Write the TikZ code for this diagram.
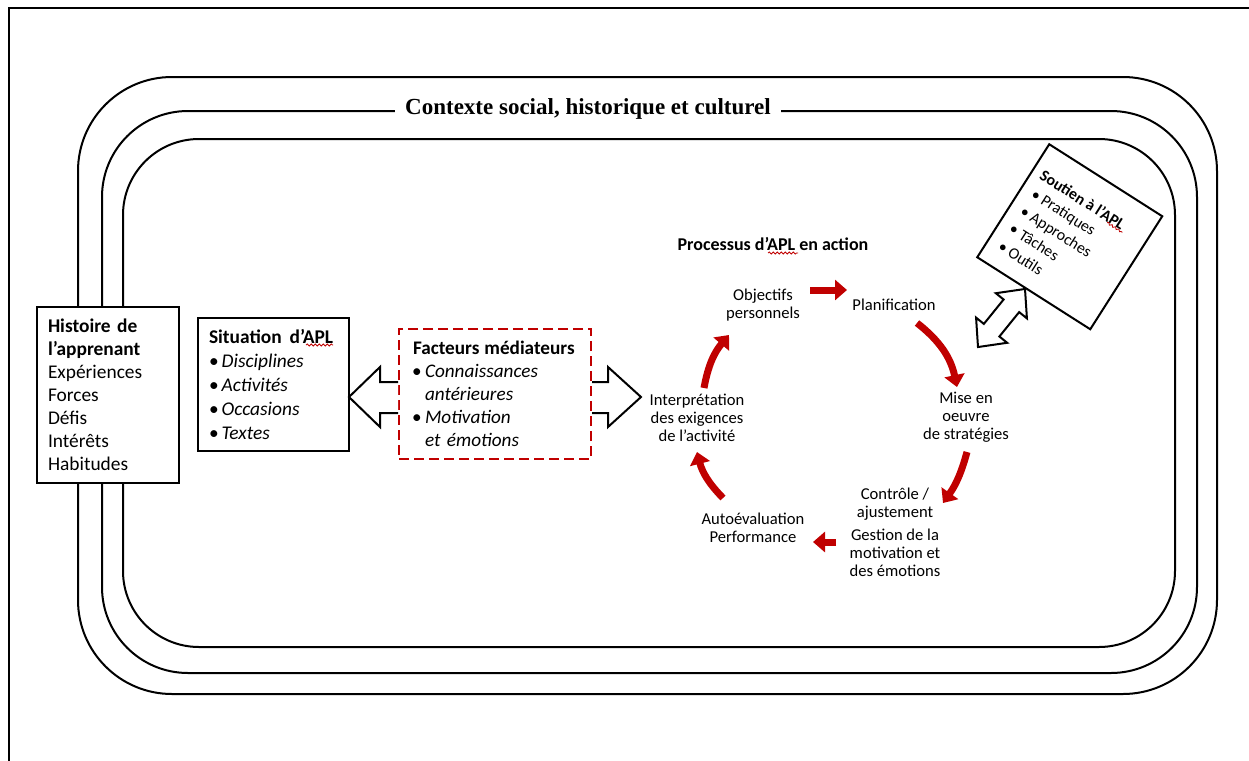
\documentclass[tikz,border=0pt]{standalone}
\usepackage{fontspec}
\setmainfont{Carlito}
\newfontfamily\titlefont{Liberation Serif}
\usetikzlibrary{arrows.meta,calc,decorations.pathmorphing}
\definecolor{aplred}{RGB}{192,0,0}

\begin{document}
\begin{tikzpicture}[x=0.5pt,y=-0.5pt,
  ring/.style={line width=1pt},
  textbox/.style={draw=black, line width=0.7pt, fill=white, align=left},
  dashbox/.style={draw=aplred, line width=1pt, dash pattern=on 5pt off 2.5pt, fill=white, align=left},
  blockarrow/.style={draw=black, line width=1pt, fill=white, line join=miter},
  cyclbl/.style={font=\fontsize{8.3}{9}\selectfont, align=center, inner sep=0pt},
  cycarrow/.style={draw=aplred, line width=3.5pt, -{Triangle[length=6pt,width=10pt]}},
  squiggle/.style={draw=aplred, line width=0.4pt, decorate, decoration={snake, amplitude=0.5pt, segment length=2pt}},
]
\useasboundingbox (0,0) rectangle (1249,761);

% page frame
\draw[line width=1pt] (9,761) -- (9,8) -- (1249,8);

% three nested context rings
\draw[ring, rounded corners=47pt] (78,77) rectangle (1217,694);
\draw[ring, rounded corners=43pt] (102,111) rectangle (1197,673);
\draw[ring, rounded corners=38pt] (123,139) rectangle (1175,647);

\node[fill=white, inner xsep=5pt, inner ysep=2pt,
      font=\titlefont\bfseries\fontsize{11.5}{12}\selectfont] (ctx) at (588,109)
  {Contexte social, historique et culturel};

% learner history
\node[textbox, minimum width=71pt, minimum height=88pt, text width=60pt, inner xsep=5.5pt,
      font=\fontsize{9.7}{11.5}\selectfont] (hist) at (108,395)
  {\textbf{Histoire de}\\ \textbf{l’apprenant}\\ Expériences\\ Forces\\ Défis\\ Intérêts\\ Habitudes};

% situation
\node[textbox, minimum width=75.5pt, minimum height=66.5pt, text width=64.5pt, inner xsep=5.5pt,
      font=\fontsize{9.7}{12}\selectfont] (sit) at (273.5,384.5)
  {\textbf{Situation\hspace{4pt}d’APL}\\
   \textbullet\hspace{1.5pt}\textit{Disciplines}\\
   \textbullet\hspace{1.5pt}\textit{Activités}\\
   \textbullet\hspace{1.5pt}\textit{Occasions}\\
   \textbullet\hspace{1.5pt}\textit{Textes}};
\draw[squiggle] (306,345) -- (333,345);

% mediating factors
\node[dashbox, minimum width=96pt, minimum height=65pt, text width=86pt, inner xsep=5pt,
      font=\fontsize{9.6}{11.5}\selectfont] (fact) at (495,394)
  {\hspace*{2pt}\mbox{\textbf{Facteurs\hspace{2.5pt}médiateurs}}\\
   \makebox[8pt][c]{\textbullet}\textit{Connaissances}\\
   \hspace*{8pt}\textit{antérieures}\\
   \makebox[8pt][c]{\textbullet}\textit{Motivation}\\
   \hspace*{8pt}\textit{et émotions}};

% block arrows leaving the factors box
\begin{scope}[shift={(fact.west)}]
  \draw[blockarrow] (0,-12) -- (-18,-12) -- (-18,-27) -- (-49,3) -- (-18,33) -- (-18,19) -- (0,19);
\end{scope}
\begin{scope}[shift={(fact.east)}]
  \draw[blockarrow] (0,-12) -- (16,-12) -- (16,-27) -- (49,3) -- (16,33) -- (16,19) -- (0,19);
\end{scope}

% process cycle
\node[font=\bfseries\fontsize{9}{10}\selectfont, inner sep=0pt] (proc) at (773,244) {Processus d’APL en action};
\draw[squiggle] (768,253) -- (798,253);

\node[cyclbl] (obj)    at (763,305) {Objectifs\\personnels};
\node[cyclbl] (plan)   at (894,305) {Planification};
\node[cyclbl] (mise)   at (966,417) {Mise en\\oeuvre\\de stratégies};
\node[cyclbl] (ctrl)   at (895,504) {Contrôle /\\ajustement};
\node[cyclbl] (gest)   at (895,553) {Gestion de la\\motivation et\\des émotions};
\node[cyclbl] (auto)   at (753,528) {Autoévaluation\\Performance};
\node[cyclbl] (interp) at (697,418) {Interprétation\\des exigences\\de l’activité};

\coordinate (objout)    at (810,290);
\coordinate (planin)    at (847,290);
\coordinate (planout)   at (917,323);
\coordinate (misein)    at (957,387);
\coordinate (miseout)   at (967,452);
\coordinate (ctrlin)    at (943,503);
\coordinate (gestout)   at (836,542);
\coordinate (autoin)    at (813,542);
\coordinate (autoout)   at (723,498);
\coordinate (interpin)  at (697,452);
\coordinate (interpout) at (704,388);
\coordinate (objin)     at (729,335);

\draw[cycarrow] (objout) -- (planin);
\draw[cycarrow] (planout) to[bend left=20] (misein);
\draw[cycarrow] (miseout) to[bend left=10] (ctrlin);
\draw[cycarrow] (gestout) -- (autoin);
\draw[cycarrow] (autoout) to[bend left=15] (interpin);
\draw[cycarrow] (interpout) to[bend left=15] (objin);

% two-way arrow to the support box
\begin{scope}[shift={(1001.5,318)}, rotate=51]
  \draw[blockarrow] (37.35,0) -- (15.7,20) -- (15.7,10) -- (-15.7,10) -- (-15.7,20) -- (-37.35,0)
    -- (-15.7,-20) -- (-15.7,-10) -- (15.7,-10) -- (15.7,-20) -- cycle;
\end{scope}

% support box, tilted
\begin{scope}[shift={(1069.75,236.75)}, rotate=-32.5, transform shape]
  \node[draw=black, line width=1pt, fill=white, minimum size=67pt, inner sep=0pt] (sout) at (0,0) {};
  \node[anchor=west, align=left, inner sep=0pt, font=\fontsize{8}{10.25}\selectfont] (soutxt) at (-58,2.7)
    {\textbf{Soutien à l’APL}\\
     \hspace*{1.5pt}\textbullet\ Pratiques\\
     \hspace*{1.5pt}\textbullet\ Approches\\
     \hspace*{1.5pt}\textbullet\ Tâches\\
     \hspace*{1.5pt}\textbullet\ Outils};
  \draw[squiggle] (24,-32) -- (42,-32);
\end{scope}

\end{tikzpicture}
\end{document}
